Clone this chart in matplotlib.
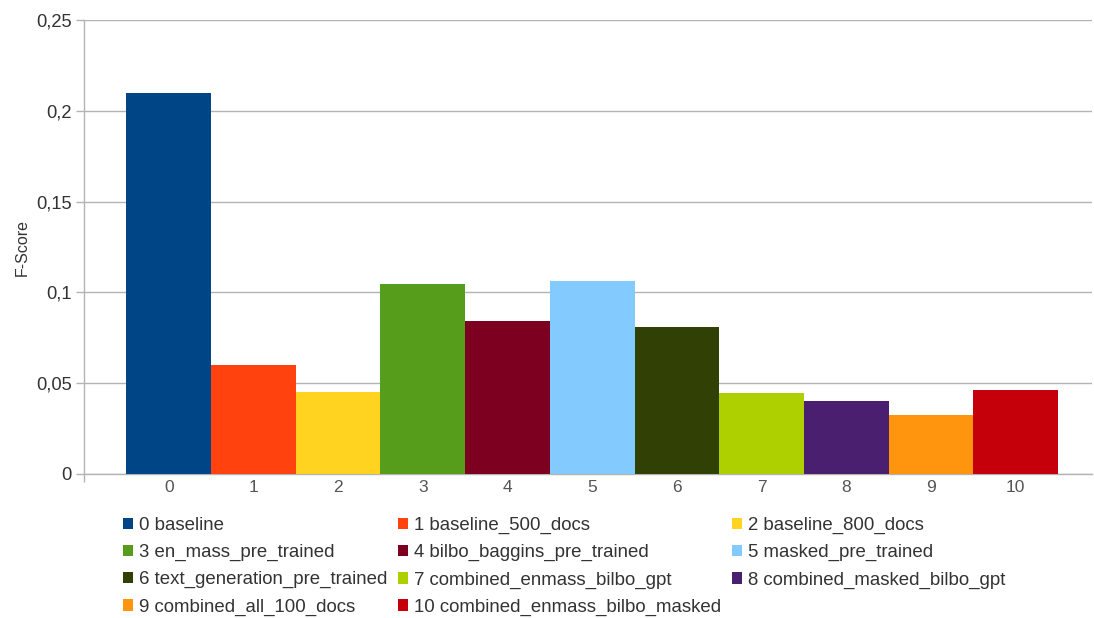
import matplotlib
matplotlib.use("Agg")
import matplotlib.pyplot as plt
from matplotlib.patches import Patch
from matplotlib.ticker import FuncFormatter

plt.rcParams['font.family'] = ['Liberation Sans', 'DejaVu Sans']

categories = ["0", "1", "2", "3", "4", "5", "6", "7", "8", "9", "10"]
series_names = [
    "0 baseline", "1 baseline_500_docs", "2 baseline_800_docs",
    "3 en_mass_pre_trained", "4 bilbo_baggins_pre_trained", "5 masked_pre_trained",
    "6 text_generation_pre_trained", "7 combined_enmass_bilbo_gpt",
    "8 combined_masked_bilbo_gpt", "9 combined_all_100_docs",
    "10 combined_enmass_bilbo_masked",
]
f_scores = [0.210, 0.060, 0.045, 0.1045, 0.084, 0.1065, 0.081, 0.0445, 0.040, 0.0325, 0.046]
colors = ["#004586", "#ff420e", "#ffd320", "#579d1c", "#7e0021", "#83caff",
          "#314004", "#aecf00", "#4b1f6f", "#ff950e", "#c5000b"]
y_ticks = [0, 0.05, 0.1, 0.15, 0.2, 0.25]

W, H = 1094, 618
fig = plt.figure(figsize=(W / 100, H / 100), dpi=100)
ax = fig.add_axes([84 / W, 1 - 474 / H, (1092 - 84) / W, (474 - 20) / H])

x = list(range(len(categories)))
ax.bar(x, f_scores, width=1.0, color=colors, zorder=3, linewidth=0)

x_left = -1.0
ax.set_xlim(x_left, 10.9)
ax.set_ylim(0, 0.25)
ax.set_yticks(y_ticks)
ax.yaxis.set_major_formatter(FuncFormatter(lambda v, p: ("%g" % v).replace(".", ",")))
ax.set_xticks(x)
ax.set_xticklabels(categories)
# short stub of the value axis below the baseline
ax.set_xticks([x_left], minor=True)

grid_color = "#b3b3b3"
ax.grid(axis="y", color=grid_color, linewidth=1, zorder=0)
for side in ["top", "right"]:
    ax.spines[side].set_visible(False)
for side in ["left", "bottom"]:
    ax.spines[side].set_color(grid_color)
    ax.spines[side].set_linewidth(1)
ax.tick_params(axis="y", colors=grid_color, labelcolor="#333333", labelsize=13.2,
               length=5.8, width=1, pad=3)
ax.tick_params(axis="x", which="major", length=0, labelcolor="#555555", labelsize=12.5, pad=4)
ax.tick_params(axis="x", which="minor", length=5.8, width=1, colors=grid_color)
ax.set_ylabel("F-Score", color="#333333", fontsize=11.5)
ax.yaxis.set_label_coords(-0.054, 0.5)

handles = [Patch(facecolor=c, edgecolor="none") for c in colors]
order = [0, 3, 6, 9, 1, 4, 7, 10, 2, 5, 8]
fig.legend([handles[i] for i in order], [series_names[i] for i in order],
           loc="upper left", bbox_to_anchor=(123 / W, 1 - 517 / H),
           ncol=3, frameon=False, fontsize=13.4, handlelength=0.56, handleheight=0.56,
           handletextpad=0.32, columnspacing=0.55, labelspacing=0.54, borderaxespad=0,
           borderpad=0, labelcolor="#333333")

fig.savefig("out.png", dpi=100)
